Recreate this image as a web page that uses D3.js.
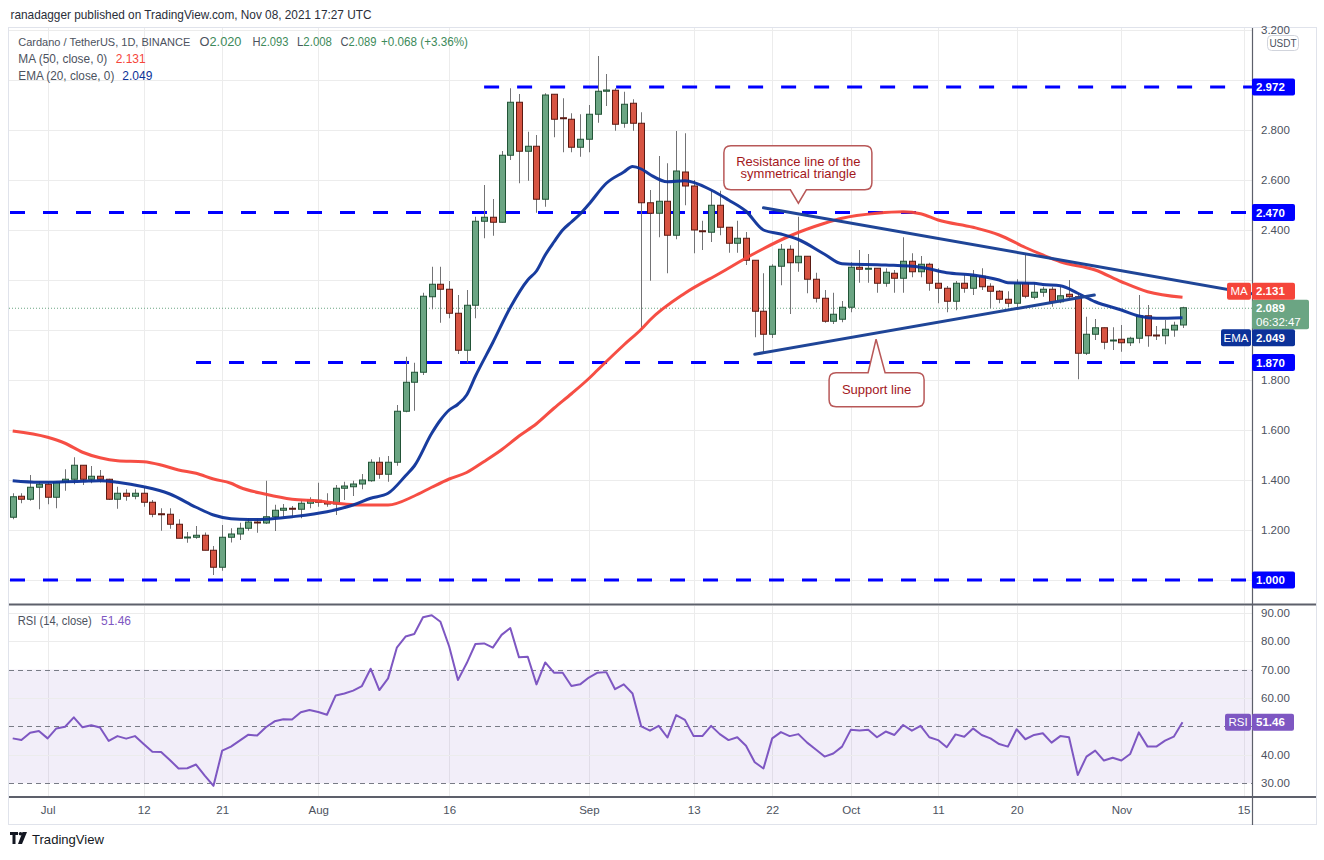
<!DOCTYPE html>
<html><head><meta charset="utf-8">
<script src="https://cdn.jsdelivr.net/npm/d3@7"></script>
<style>
html,body{margin:0;padding:0;background:#fff;}
svg{display:block;font-family:"Liberation Sans",Arial,sans-serif;}
</style></head><body>
<svg id="chart" width="1324" height="860"></svg>
<script>
// ---------------- DATA ----------------
const startDate = "2021-06-27"; // first daily candle
const opens = [1.251,1.335,1.323,1.371,1.383,1.331,1.391,1.403,1.459,1.403,1.415,1.403,1.323,1.347,1.335,1.347,1.311,1.265,1.263,1.223,1.168,1.171,1.179,1.119,1.051,1.171,1.184,1.207,1.232,1.228,1.253,1.279,1.287,1.283,1.307,1.319,1.311,1.304,1.367,1.373,1.384,1.397,1.471,1.423,1.471,1.675,1.791,1.831,2.133,2.183,2.163,2.067,1.919,2.099,2.435,2.451,2.431,2.699,2.911,2.715,2.735,2.523,2.943,2.849,2.843,2.731,2.763,2.863,2.955,2.959,2.827,2.907,2.827,2.509,2.467,2.515,2.379,2.632,2.576,2.397,2.391,2.499,2.411,2.347,2.367,2.279,2.075,1.983,2.255,2.323,2.269,2.295,2.203,2.127,2.035,2.043,2.091,2.251,2.243,2.247,2.187,2.227,2.207,2.275,2.233,2.263,2.187,2.167,2.115,2.187,2.167,2.215,2.175,2.155,2.123,2.107,2.187,2.131,2.151,2.163,2.113,2.143,2.133,1.907,1.983,2.009,1.956,1.963,1.949,1.967,2.057,1.980,1.977,2.000,2.020];
const highs = [1.347,1.347,1.420,1.396,1.393,1.396,1.443,1.491,1.459,1.456,1.440,1.405,1.373,1.363,1.363,1.371,1.320,1.287,1.287,1.243,1.192,1.216,1.190,1.136,1.220,1.207,1.229,1.247,1.245,1.397,1.301,1.304,1.296,1.320,1.331,1.389,1.347,1.380,1.393,1.397,1.424,1.483,1.491,1.496,1.700,1.893,1.869,2.149,2.253,2.253,2.196,2.140,2.160,2.453,2.580,2.524,2.716,2.967,2.944,2.793,2.780,2.947,2.943,2.927,2.867,2.863,2.900,3.096,3.024,2.967,2.953,2.923,2.871,2.560,2.696,2.667,2.796,2.787,2.600,2.437,2.557,2.557,2.411,2.437,2.392,2.280,2.227,2.263,2.344,2.339,2.453,2.295,2.229,2.160,2.149,2.116,2.271,2.320,2.304,2.247,2.247,2.240,2.371,2.307,2.296,2.269,2.247,2.176,2.196,2.220,2.240,2.247,2.187,2.160,2.155,2.203,2.300,2.191,2.173,2.173,2.173,2.200,2.147,2.053,2.044,2.010,2.011,2.020,1.973,2.140,2.100,2.016,2.040,2.033,2.093];
const lows = [1.243,1.307,1.317,1.283,1.303,1.287,1.357,1.383,1.380,1.387,1.390,1.320,1.285,1.317,1.323,1.293,1.251,1.197,1.205,1.167,1.149,1.165,1.119,1.020,1.037,1.150,1.160,1.197,1.189,1.224,1.196,1.253,1.256,1.247,1.287,1.293,1.293,1.260,1.320,1.336,1.363,1.393,1.405,1.393,1.457,1.671,1.677,1.820,2.083,2.029,2.047,1.904,1.869,2.047,2.367,2.377,2.430,2.680,2.587,2.597,2.469,2.493,2.771,2.711,2.711,2.693,2.711,2.829,2.896,2.797,2.809,2.797,2.000,2.197,2.371,2.227,2.363,2.499,2.307,2.320,2.352,2.379,2.309,2.309,2.260,1.971,1.909,1.968,2.179,2.064,2.233,2.147,2.110,2.029,2.024,2.031,2.071,2.189,2.189,2.149,2.173,2.149,2.149,2.211,2.211,2.157,2.107,2.071,2.079,2.149,2.140,2.160,2.087,2.107,2.091,2.087,2.127,2.123,2.133,2.093,2.107,2.123,1.803,1.900,1.960,1.923,1.920,1.913,1.936,1.947,1.933,1.960,1.943,1.973,2.008];
const closes = [1.333,1.323,1.371,1.383,1.331,1.391,1.403,1.459,1.403,1.415,1.403,1.323,1.347,1.335,1.347,1.311,1.263,1.261,1.223,1.167,1.172,1.179,1.119,1.051,1.171,1.184,1.207,1.232,1.228,1.253,1.279,1.287,1.283,1.307,1.320,1.311,1.304,1.367,1.376,1.384,1.400,1.471,1.423,1.471,1.675,1.791,1.831,2.135,2.183,2.163,2.067,1.919,2.099,2.435,2.451,2.431,2.699,2.911,2.715,2.735,2.523,2.940,2.843,2.845,2.731,2.763,2.863,2.955,2.960,2.823,2.903,2.827,2.509,2.467,2.515,2.379,2.636,2.576,2.400,2.393,2.499,2.411,2.347,2.367,2.279,2.075,1.983,2.255,2.323,2.269,2.295,2.203,2.127,2.035,2.063,2.091,2.251,2.243,2.247,2.187,2.231,2.207,2.275,2.233,2.263,2.187,2.167,2.115,2.187,2.167,2.215,2.173,2.155,2.123,2.107,2.187,2.135,2.151,2.163,2.113,2.137,2.133,1.907,1.983,2.009,1.951,1.960,1.949,1.967,2.057,1.977,1.976,2.003,2.019,2.089];

// EMA(20) and MA(50) at the listed candle numbers
const emaDays   = [0,3,6,8,10,12,15,18,21,23,25,27,29,32,36,39,41,43,45,46,48,49,50,51,52,53,55,57,59,60,61,62,63,64,65,66,68,70,71,72,73,75,77,80,82,84,86,88,90,93,95,100,104,107,110,113,114,117,118,120,122,124,127,129,131,134];
const emaValues = [1.397,1.391,1.393,1.395,1.397,1.391,1.373,1.344,1.291,1.260,1.245,1.242,1.243,1.253,1.273,1.300,1.327,1.347,1.417,1.456,1.587,1.640,1.680,1.703,1.740,1.815,1.950,2.090,2.200,2.236,2.300,2.352,2.400,2.432,2.464,2.503,2.587,2.632,2.654,2.644,2.622,2.593,2.597,2.560,2.520,2.475,2.400,2.384,2.362,2.303,2.265,2.260,2.251,2.229,2.220,2.200,2.189,2.187,2.182,2.177,2.147,2.113,2.080,2.056,2.047,2.049];
const maDays   = [0,4,6,8,10,12,15,17,19,21,23,25,26,29,32,35,38,40,43,46,48,50,52,54,56,58,60,62,64,66,67,70,72,73,77,81,85,89,93,95,99,102,104,106,110,113,116,118,120,124,127,130,134];
const maValues = [1.596,1.571,1.547,1.511,1.489,1.477,1.473,1.460,1.440,1.427,1.404,1.387,1.371,1.343,1.323,1.316,1.304,1.300,1.300,1.336,1.371,1.404,1.430,1.474,1.521,1.576,1.625,1.687,1.745,1.806,1.840,1.940,2.003,2.040,2.147,2.227,2.307,2.376,2.427,2.447,2.467,2.473,2.465,2.440,2.411,2.380,2.330,2.300,2.273,2.240,2.193,2.153,2.131];

const rsiValues = [45.8,45.2,47.8,48.4,45.8,49.3,49.9,53.2,49.7,50.4,49.6,44.9,46.6,45.7,46.6,43.8,41.1,41.0,38.2,35.2,35.3,36.6,32.7,29.1,41.5,42.9,45.0,47.1,46.8,49.7,51.8,52.5,52.4,55.0,55.8,55.1,54.1,60.9,61.6,62.6,64.2,70.3,62.8,66.9,77.7,81.6,82.5,88.4,89.1,86.8,78.1,66.3,72.2,79.0,79.2,77.7,82.2,84.6,74.3,74.5,64.8,72.5,68.9,68.9,64.2,64.8,67.2,68.9,69.1,63.1,64.8,61.6,50.0,48.5,50.2,46.1,54.0,52.3,46.6,46.6,50.2,47.3,45.2,46.2,43.2,37.4,35.2,45.8,48.0,46.6,47.3,44.3,41.9,39.4,40.5,42.9,48.8,48.6,48.8,46.2,48.2,47.0,50.5,48.5,50.2,46.2,45.2,42.7,47.2,46.4,49.3,47.0,45.8,43.8,42.9,49.0,45.5,47.0,47.6,44.3,46.6,46.2,32.9,39.4,41.5,38.0,39.0,38.0,40.3,47.9,42.9,42.9,45.0,46.4,51.46];

const priceTicks = [1.0,1.2,1.4,1.6,1.8,2.0,2.2,2.4,2.6,2.8,3.0,3.2];
const rsiGridTicks = [40,60,80,90];
const rsiDashedTicks = [30,50,70];
const rsiLabelTicks = [30,40,60,70,80,90];
const timeTickDates  = ["2021-07-01","2021-07-12","2021-07-21","2021-08-01","2021-08-16","2021-09-01","2021-09-13","2021-09-22","2021-10-01","2021-10-11","2021-10-20","2021-11-01","2021-11-15"];
const timeTickLabels = ["Jul","12","21","Aug","16","Sep","13","22","Oct","11","20","Nov","15"];

// horizontal levels drawn by the author (value, first candle of the ray)
const levelValues    = [2.972,2.470,1.870,1.000];
const levelStartDays = [54,0,21,0];
// triangle lines: [candle, price] end points
const resistanceDays = [86,143];   const resistanceValues = [2.489,2.139];
const supportDays    = [85,123.9]; const supportValues    = [1.903,2.140];
// callouts: text lines and the candle / price their pointer touches
const calloutTexts  = [["Resistance line of the","symmetrical triangle"],["Support line"]];
const calloutDays   = [90.0,98.9];
const calloutPrices = [2.507,1.963];

const headerText = "ranadagger published on TradingView.com, Nov 08, 2021 17:27 UTC";
const symbolText = "Cardano / TetherUS, 1D, BINANCE";
const ohlcLabels = ["O","H","L","C"];
const changeText = "+0.068 (+3.36%)";
const countdownText = "06:32:47";

// ---------------- CHART ----------------
const svg = d3.select("#chart");
const W = 1324, H = 860;
const paneL = 9, paneR = 1252, mainT = 28, mainB = 603, rsiT = 606, rsiB = 796;

const day = s => (Date.parse(s) - Date.parse(startDate)) / 86400000;
const n = closes.length;
const xs = d3.scaleLinear().domain([0, n - 1]).range([12.7, 1182.5]);
const ys = d3.scaleLinear().domain([1.0, 3.2]).range([580, 30]);
const yr = d3.scaleLinear().domain([30, 90]).range([783.3, 612.7]);

const green = "#6ba583", greenBorder = "#225437", red = "#d75442", redBorder = "#5b1a13";
const levelBlue = "#0000ff", emaColor = "#0c3299", maColor = "#f5453a", rsiColor = "#7e57c2";
const triColor = "#1f4597", gridColor = "#ececec", textColor = "#4c525e";

svg.append("rect").attr("width", W).attr("height", H).attr("fill", "#fff");

const defs = svg.append("defs");
defs.append("clipPath").attr("id","clipMain").append("rect").attr("x",paneL).attr("y",mainT).attr("width",paneR-paneL).attr("height",mainB-mainT);
defs.append("clipPath").attr("id","clipRsi").append("rect").attr("x",paneL).attr("y",rsiT).attr("width",paneR-paneL).attr("height",rsiB-rsiT);

// outer frame
svg.append("rect").attr("x",8.5).attr("y",27.5).attr("width",1308).attr("height",797)
  .attr("fill","none").attr("stroke","#e0e3eb");

// header
svg.append("text").attr("x",10.5).attr("y",19).attr("font-size",13).attr("fill","#2a2e39")
  .attr("textLength",361).attr("lengthAdjust","spacingAndGlyphs").text(headerText);

// grids
const tickDays = timeTickDates.map(day);
const gMainGrid = svg.append("g");
gMainGrid.selectAll("line.h").data(priceTicks).join("line")
  .attr("x1",paneL).attr("x2",paneR).attr("y1",d=>ys(d)+0.5).attr("y2",d=>ys(d)+0.5)
  .attr("stroke",gridColor);
[ [mainT,mainB], [rsiT,rsiB] ].forEach(([t,b])=>{
  gMainGrid.append("g").selectAll("line").data(tickDays.filter(d=>xs(d)<paneR)).join("line")
    .attr("x1",d=>Math.round(xs(d))+0.5).attr("x2",d=>Math.round(xs(d))+0.5)
    .attr("y1",t).attr("y2",b).attr("stroke",gridColor);
});

// ---- main pane content
const main = svg.append("g").attr("clip-path","url(#clipMain)");

// horizontal level rays
main.selectAll("line.level").data(levelValues).join("line")
  .attr("x1",(d,i)=> levelStartDays[i]===0 ? 10 : xs(levelStartDays[i])).attr("x2",paneR)
  .attr("y1",d=>ys(d)).attr("y2",d=>ys(d))
  .attr("stroke",levelBlue).attr("stroke-width",3).attr("stroke-dasharray","15,18");

// last price dotted line
main.append("line").attr("x1",paneL).attr("x2",paneR)
  .attr("y1",ys(closes[n-1])+0.5).attr("y2",ys(closes[n-1])+0.5)
  .attr("stroke",green).attr("stroke-width",1).attr("stroke-dasharray","1,2");

// candles
const idx = d3.range(n);
main.append("g").selectAll("line").data(idx).join("line")
  .attr("x1",i=>Math.round(xs(i))+0.5).attr("x2",i=>Math.round(xs(i))+0.5)
  .attr("y1",i=>ys(highs[i])).attr("y2",i=>ys(lows[i]))
  .attr("stroke","#737375").attr("stroke-width",1);
main.append("g").selectAll("rect").data(idx).join("rect")
  .attr("x",i=>Math.round(xs(i))-2.5).attr("width",6)
  .attr("y",i=>ys(Math.max(opens[i],closes[i])))
  .attr("height",i=>Math.max(1,Math.abs(ys(opens[i])-ys(closes[i]))))
  .attr("fill",i=>closes[i]>=opens[i]?green:red)
  .attr("stroke",i=>closes[i]>=opens[i]?greenBorder:redBorder).attr("stroke-width",1);

// moving averages
const lineGen = (days, vals) => d3.line().x((d,i)=>xs(days[i])).y(d=>ys(d)).curve(d3.curveMonotoneX)(vals);
main.append("path").attr("d",lineGen(maDays,maValues)).attr("fill","none")
  .attr("stroke",maColor).attr("stroke-width",3).attr("stroke-opacity",0.95);
main.append("path").attr("d",lineGen(emaDays,emaValues)).attr("fill","none")
  .attr("stroke",emaColor).attr("stroke-width",3).attr("stroke-opacity",0.95);

// triangle lines
[[resistanceDays,resistanceValues],[supportDays,supportValues]].forEach(([dd,vv])=>{
  main.append("line").attr("x1",xs(dd[0])).attr("y1",ys(vv[0])).attr("x2",xs(dd[1])).attr("y2",ys(vv[1]))
    .attr("stroke",triColor).attr("stroke-width",3).attr("stroke-linecap","round");
});

// callouts
function calloutPath(L,R,T,B,r,side,x1,x2,tx,ty){
  if(side==="bottom")
    return `M${L+r},${T}H${R-r}Q${R},${T} ${R},${T+r}V${B-r}Q${R},${B} ${R-r},${B}H${x2}L${tx},${ty}L${x1},${B}H${L+r}Q${L},${B} ${L},${B-r}V${T+r}Q${L},${T} ${L+r},${T}Z`;
  return `M${L+r},${T}H${x1}L${tx},${ty}L${x2},${T}H${R-r}Q${R},${T} ${R},${T+r}V${B-r}Q${R},${B} ${R-r},${B}H${L+r}Q${L},${B} ${L},${B-r}V${T+r}Q${L},${T} ${L+r},${T}Z`;
}
const callG = svg.append("g");
{
  const tx = xs(calloutDays[0]), ty = ys(calloutPrices[0]);
  callG.append("path").attr("d",calloutPath(tx-74.5,tx+73.5,ty-57.5,ty-13.5,7,"bottom",tx-8,tx+8,tx,ty))
    .attr("fill","#fff").attr("stroke","#b85858").attr("stroke-width",1.5);
  calloutTexts[0].forEach((t,k)=>callG.append("text").attr("x",tx).attr("y",ty-37.5+k*12.5)
    .attr("text-anchor","middle").attr("font-size",13).attr("fill","#a3181c").text(t));
}
{
  const tx = xs(calloutDays[1]), ty = ys(calloutPrices[1]);
  callG.append("path").attr("d",calloutPath(tx-47,tx+48,ty+33.5,ty+67.5,7,"top",tx-8,tx+9,tx,ty))
    .attr("fill","#fff").attr("stroke","#b85858").attr("stroke-width",1.5);
  callG.append("text").attr("x",tx+0.5).attr("y",ty+54.5).attr("text-anchor","middle")
    .attr("font-size",13).attr("fill","#a3181c").text(calloutTexts[1][0]);
}

// ---- RSI pane
const rsiG = svg.append("g").attr("clip-path","url(#clipRsi)");
rsiG.append("rect").attr("x",paneL).attr("width",paneR-paneL).attr("y",yr(70)).attr("height",yr(30)-yr(70))
  .attr("fill",rsiColor).attr("fill-opacity",0.1);
rsiG.selectAll("line.g").data(rsiGridTicks).join("line")
  .attr("x1",paneL).attr("x2",paneR).attr("y1",d=>Math.round(yr(d))+0.5).attr("y2",d=>Math.round(yr(d))+0.5)
  .attr("stroke",gridColor);
rsiG.selectAll("line.d").data(rsiDashedTicks).join("line")
  .attr("x1",paneL).attr("x2",paneR).attr("y1",d=>Math.round(yr(d))+0.5).attr("y2",d=>Math.round(yr(d))+0.5)
  .attr("stroke","#787b86").attr("stroke-dasharray","5,4");
rsiG.append("path").attr("d",d3.line().x((d,i)=>xs(i)).y(d=>yr(d))(rsiValues))
  .attr("fill","none").attr("stroke",rsiColor).attr("stroke-width",2).attr("stroke-linejoin","round");

// pane separators and axis lines
svg.append("line").attr("x1",paneL).attr("x2",1316).attr("y1",604.5).attr("y2",604.5).attr("stroke","#5d606b").attr("stroke-width",2);
svg.append("line").attr("x1",paneL).attr("x2",1316).attr("y1",797).attr("y2",797).attr("stroke","#5d606b").attr("stroke-width",2);
svg.append("line").attr("x1",1252.5).attr("x2",1252.5).attr("y1",28).attr("y2",825).attr("stroke","#5d606b").attr("stroke-width",1.2);

// ---- value boxes on the price scale (positions decided first, so hidden labels can be skipped)
const closeY = ys(closes[n-1]);
const closeTop = closeY - 8;
const maLast = maValues[maValues.length-1];
const maY = Math.min(ys(maLast), closeTop - 8.5);
const emaLast = emaValues[emaValues.length-1];
const emaY = Math.max(ys(emaLast), closeTop + 29.5 + 8.5);
const rsiLast = rsiValues[rsiValues.length-1];
const boxSpans = levelValues.map(v=>[ys(v)-8.5, ys(v)+8.5])
  .concat([[maY-8.5,maY+8.5],[closeTop,closeTop+29.5],[emaY-8.5,emaY+8.5]]);
const labelHidden = y => boxSpans.some(([a,b]) => y+4 > a && y-4 < b);

// ---- axes
const axisPrice = d3.axisRight(ys).tickValues(priceTicks.filter(v=>!labelHidden(ys(v))))
  .tickFormat(d3.format(".3f")).tickSize(0).tickPadding(9);
const gpa = svg.append("g").attr("transform","translate(1252,0)").call(axisPrice);
gpa.select(".domain").remove();
gpa.selectAll("text").attr("font-size",11.5).attr("fill",textColor).attr("font-family","Liberation Sans, Arial, sans-serif");

const axisRsi = d3.axisRight(yr).tickValues(rsiLabelTicks).tickFormat(d3.format(".2f")).tickSize(0).tickPadding(9);
const gra = svg.append("g").attr("transform","translate(1252,0)").call(axisRsi);
gra.select(".domain").remove();
gra.selectAll("text").attr("font-size",11.5).attr("fill",textColor).attr("font-family","Liberation Sans, Arial, sans-serif");

const axisTime = d3.axisBottom(xs).tickValues(tickDays).tickFormat((d,i)=>timeTickLabels[i]).tickSize(0).tickPadding(9);
const gta = svg.append("g").attr("transform","translate(0,797)").call(axisTime);
gta.select(".domain").remove();
gta.selectAll("text").attr("font-size",11.5).attr("fill",textColor).attr("font-family","Liberation Sans, Arial, sans-serif");

// USDT badge
svg.append("rect").attr("x",1267.5).attr("y",35.5).attr("width",31).attr("height",15).attr("rx",4)
  .attr("fill","#fff").attr("stroke","#d1d4dc");
svg.append("text").attr("x",1283).attr("y",47).attr("text-anchor","middle").attr("font-size",10).attr("fill",textColor).text("USDT");

function valueBox(yc, txt, fill, h=17, w=43){
  svg.append("rect").attr("x",1252).attr("y",yc-h/2).attr("width",w).attr("height",h).attr("rx",2).attr("fill",fill);
  svg.append("text").attr("x",1256).attr("y",yc+4).attr("font-size",11.5).attr("font-weight","bold").attr("fill","#fff").text(txt);
}
function tagBox(x, yc, txt, fill, w, h=17){
  svg.append("rect").attr("x",x).attr("y",yc-h/2).attr("width",w).attr("height",h).attr("rx",2).attr("fill",fill);
  svg.append("text").attr("x",x+w/2).attr("y",yc+4).attr("text-anchor","middle").attr("font-size",11.5).attr("fill","#fff").text(txt);
}
levelValues.forEach(v=> valueBox(ys(v), d3.format(".3f")(v), levelBlue));

svg.append("rect").attr("x",1252).attr("y",closeTop).attr("width",57).attr("height",29.5).attr("rx",2).attr("fill",green);
svg.append("text").attr("x",1256).attr("y",closeY+4).attr("font-size",11.5).attr("font-weight","bold").attr("fill","#fff").text(d3.format(".3f")(closes[n-1]));
svg.append("text").attr("x",1256).attr("y",closeY+18).attr("font-size",11.5).attr("fill","#fff").text(countdownText);

tagBox(1227, maY, "MA", maColor, 24); valueBox(maY, d3.format(".3f")(maLast), maColor);
tagBox(1221, emaY, "EMA", emaColor, 30); valueBox(emaY, d3.format(".3f")(emaLast), emaColor);
tagBox(1225, yr(rsiLast), "RSI", rsiColor, 26); valueBox(yr(rsiLast), d3.format(".2f")(rsiLast), rsiColor, 17, 42);

// ---- legends
const lg = svg.append("g").attr("font-size",12);
lg.append("text").attr("x",18.3).attr("y",46).attr("font-size",11).attr("fill",textColor).attr("textLength",172).attr("lengthAdjust","spacingAndGlyphs").text(symbolText);
const ohlcVals = [opens[n-1],highs[n-1],lows[n-1],closes[n-1]];
const ohlcX = [199.5,252.5,297,340.5];
const ohlcW = [42,36,35,36];
ohlcLabels.forEach((lab,k)=>{
  const t = lg.append("text").attr("x",ohlcX[k]).attr("y",46).attr("textLength",ohlcW[k]).attr("lengthAdjust","spacingAndGlyphs");
  t.append("tspan").attr("fill",textColor).text(lab);
  t.append("tspan").attr("fill","#3d8a5a").text(d3.format(".3f")(ohlcVals[k]));
});
lg.append("text").attr("x",381).attr("y",46).attr("fill","#3d8a5a").attr("textLength",87).attr("lengthAdjust","spacingAndGlyphs").text(changeText);
lg.append("text").attr("x",18.3).attr("y",63).attr("fill",textColor).attr("textLength",89).attr("lengthAdjust","spacingAndGlyphs").text("MA (50, close, 0)");
lg.append("text").attr("x",115.7).attr("y",63).attr("fill",maColor).text(d3.format(".3f")(maLast));
lg.append("text").attr("x",18.3).attr("y",79.5).attr("fill",textColor).attr("textLength",96).attr("lengthAdjust","spacingAndGlyphs").text("EMA (20, close, 0)");
lg.append("text").attr("x",122.3).attr("y",79.5).attr("fill",emaColor).text(d3.format(".3f")(emaLast));
lg.append("text").attr("x",17.7).attr("y",625).attr("fill",textColor).attr("textLength",74).attr("lengthAdjust","spacingAndGlyphs").text("RSI (14, close)");
lg.append("text").attr("x",101).attr("y",625).attr("fill",rsiColor).text(d3.format(".2f")(rsiLast));

// ---- TradingView logo
const logo = svg.append("g").attr("transform","translate(10,832)");
logo.append("path").attr("d","M0,0H8V3H5.5V12H2.5V3H0Z").attr("fill","#131722");
logo.append("circle").attr("cx",10.5).attr("cy",1.8).attr("r",1.8).attr("fill","#131722");
logo.append("path").attr("d","M12.5,0H17L12,12H8Z").attr("fill","#131722");
svg.append("text").attr("x",32).attr("y",844).attr("font-size",13).attr("fill","#131722")
  .attr("textLength",72).attr("lengthAdjust","spacingAndGlyphs").text("TradingView");
</script>
</body></html>
